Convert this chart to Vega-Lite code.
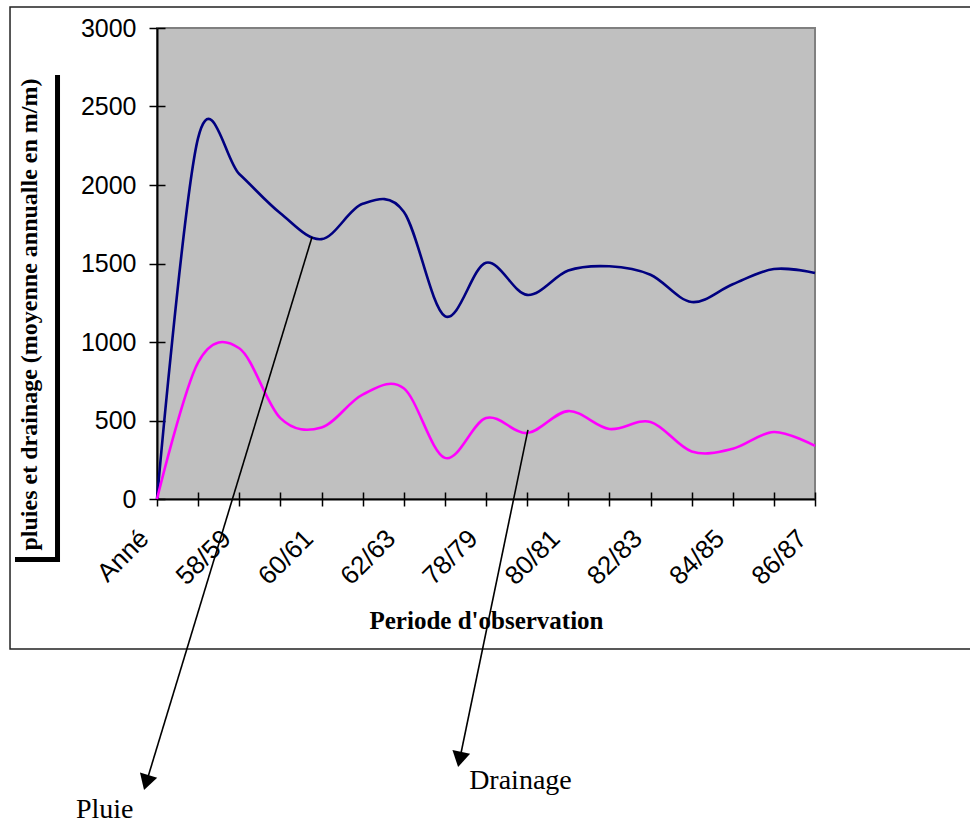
{
  "$schema": "https://vega.github.io/schema/vega-lite/v6.json",
  "autosize": {"type": "none"},
  "width": 658,
  "height": 471,
  "padding": {"left": 157, "top": 28, "right": 155, "bottom": 326},
  "background": "white",
  "config": {
    "view": {"fill": "#C0C0C0", "stroke": "#808080", "strokeWidth": 2},
    "axis": {"grid": false}
  },
  "datasets": {
    "series": [
      {"periode": "Anné", "i": 0, "serie": "Pluie", "valeur": 0},
      {"periode": "57/58", "i": 1, "serie": "Pluie", "valeur": 2300},
      {"periode": "58/59", "i": 2, "serie": "Pluie", "valeur": 2070},
      {"periode": "59/60", "i": 3, "serie": "Pluie", "valeur": 1820},
      {"periode": "60/61", "i": 4, "serie": "Pluie", "valeur": 1655},
      {"periode": "61/62", "i": 5, "serie": "Pluie", "valeur": 1880},
      {"periode": "62/63", "i": 6, "serie": "Pluie", "valeur": 1830},
      {"periode": "77/78", "i": 7, "serie": "Pluie", "valeur": 1165},
      {"periode": "78/79", "i": 8, "serie": "Pluie", "valeur": 1505},
      {"periode": "79/80", "i": 9, "serie": "Pluie", "valeur": 1300},
      {"periode": "80/81", "i": 10, "serie": "Pluie", "valeur": 1455},
      {"periode": "81/82", "i": 11, "serie": "Pluie", "valeur": 1482},
      {"periode": "82/83", "i": 12, "serie": "Pluie", "valeur": 1428},
      {"periode": "83/84", "i": 13, "serie": "Pluie", "valeur": 1255},
      {"periode": "84/85", "i": 14, "serie": "Pluie", "valeur": 1368},
      {"periode": "85/86", "i": 15, "serie": "Pluie", "valeur": 1465},
      {"periode": "86/87", "i": 16, "serie": "Pluie", "valeur": 1440},
      {"periode": "Anné", "i": 0, "serie": "Drainage", "valeur": 0},
      {"periode": "57/58", "i": 1, "serie": "Drainage", "valeur": 870},
      {"periode": "58/59", "i": 2, "serie": "Drainage", "valeur": 960},
      {"periode": "59/60", "i": 3, "serie": "Drainage", "valeur": 515},
      {"periode": "60/61", "i": 4, "serie": "Drainage", "valeur": 455},
      {"periode": "61/62", "i": 5, "serie": "Drainage", "valeur": 665},
      {"periode": "62/63", "i": 6, "serie": "Drainage", "valeur": 705},
      {"periode": "77/78", "i": 7, "serie": "Drainage", "valeur": 262},
      {"periode": "78/79", "i": 8, "serie": "Drainage", "valeur": 516},
      {"periode": "79/80", "i": 9, "serie": "Drainage", "valeur": 420},
      {"periode": "80/81", "i": 10, "serie": "Drainage", "valeur": 560},
      {"periode": "81/82", "i": 11, "serie": "Drainage", "valeur": 446},
      {"periode": "82/83", "i": 12, "serie": "Drainage", "valeur": 491},
      {"periode": "83/84", "i": 13, "serie": "Drainage", "valeur": 303},
      {"periode": "84/85", "i": 14, "serie": "Drainage", "valeur": 320},
      {"periode": "85/86", "i": 15, "serie": "Drainage", "valeur": 427},
      {"periode": "86/87", "i": 16, "serie": "Drainage", "valeur": 338}
    ],
    "annotations": [
      {"label": "Pluie", "x_debut": 3.77, "y_debut": 1669, "x_fin": -0.26, "y_fin": -1806, "x_texte": -1.97, "y_texte": -2032},
      {"label": "Drainage", "x_debut": 9.02, "y_debut": 440, "x_fin": 7.36, "y_fin": -1659, "x_texte": 7.59, "y_texte": -1847}
    ],
    "cadre": [
      {"x": -3.574, "x2": 20, "y": 3134, "y2": -955}
    ],
    "ombre": [
      {"x": -2.419, "x2": -2.419, "y": 2701, "y2": -401},
      {"x": -3.453, "x2": -2.359, "y": -385, "y2": -385}
    ]
  },
  "resolve": {"axis": {"x": "independent", "y": "independent"}},
  "layer": [
    {
      "data": {"name": "cadre"},
      "mark": {"type": "rect", "fillOpacity": 0, "stroke": "#222222", "strokeWidth": 1.5, "clip": false},
      "encoding": {
        "x": {"field": "x", "type": "quantitative", "scale": {"domain": [0, 16], "nice": false, "zero": false}, "axis": null},
        "x2": {"field": "x2"},
        "y": {"field": "y", "type": "quantitative", "scale": {"domain": [0, 3000], "nice": false}, "axis": null},
        "y2": {"field": "y2"}
      }
    },
    {
      "data": {"name": "ombre"},
      "mark": {"type": "rule", "color": "#000000", "strokeWidth": 5, "clip": false},
      "encoding": {
        "x": {"field": "x", "type": "quantitative", "scale": {"domain": [0, 16], "nice": false, "zero": false}, "axis": null},
        "x2": {"field": "x2"},
        "y": {"field": "y", "type": "quantitative", "scale": {"domain": [0, 3000], "nice": false}, "axis": null},
        "y2": {"field": "y2"}
      }
    },
    {
      "data": {"name": "series"},
      "mark": {"type": "line", "interpolate": "cardinal", "strokeWidth": 2.6, "clip": false},
      "encoding": {
        "x": {
          "field": "i", "type": "quantitative",
          "scale": {"domain": [0, 16], "nice": false, "zero": false},
          "axis": {
            "orient": "bottom",
            "values": [0, 1, 2, 3, 4, 5, 6, 7, 8, 9, 10, 11, 12, 13, 14, 15, 16],
            "labelExpr": "datum.value % 2 == 0 ? ['Anné','58/59','60/61','62/63','78/79','80/81','82/83','84/85','86/87'][datum.value / 2] : ''",
            "labelAngle": -45, "labelAlign": "right", "labelBaseline": "top",
            "labelPadding": 19, "labelOffset": -22,
            "labelFont": "Liberation Sans", "labelFontSize": 26, "labelColor": "#000000",
            "labelOverlap": false, "labelFlush": false,
            "tickSize": 7, "tickColor": "#000000", "tickWidth": 1.5,
            "domainColor": "#000000", "domainWidth": 2,
            "title": "Periode d'observation",
            "titleFont": "Liberation Serif", "titleFontSize": 25, "titleFontWeight": "bold", "titleColor": "#000000",
            "titleX": 329, "titleY": 129, "titleAlign": "center", "titleBaseline": "alphabetic",
            "grid": false
          }
        },
        "y": {
          "field": "valeur", "type": "quantitative",
          "scale": {"domain": [0, 3000], "nice": false},
          "axis": {
            "orient": "left",
            "values": [0, 500, 1000, 1500, 2000, 2500, 3000],
            "format": "d",
            "labelFont": "Liberation Sans", "labelFontSize": 25, "labelColor": "#000000",
            "labelPadding": 13, "labelOverlap": false, "labelFlush": false, "labelBaseline": "middle",
            "tickSize": 8, "tickColor": "#000000", "tickWidth": 1.5,
            "domainColor": "#000000", "domainWidth": 2,
            "title": "pluies et drainage (moyenne annualle en m/m)",
            "titleFont": "Liberation Serif", "titleFontSize": 24, "titleFontWeight": "bold", "titleColor": "#000000",
            "titleAngle": -90, "titleX": -120.5, "titleY": 286, "titleAlign": "center", "titleBaseline": "alphabetic",
            "grid": false
          }
        },
        "color": {
          "field": "serie", "type": "nominal",
          "scale": {"domain": ["Pluie", "Drainage"], "range": ["#000080", "#FF00FF"]},
          "legend": null
        }
      }
    },
    {
      "data": {"name": "series"},
      "mark": {"type": "point", "opacity": 0},
      "encoding": {
        "x": {
          "field": "i", "type": "quantitative",
          "scale": {"domain": [0, 16], "nice": false, "zero": false},
          "axis": {
            "orient": "bottom",
            "values": [0, 1, 2, 3, 4, 5, 6, 7, 8, 9, 10, 11, 12, 13, 14, 15, 16],
            "labels": false, "domain": false, "title": null,
            "tickSize": -7, "tickColor": "#000000", "tickWidth": 1.5, "grid": false
          }
        },
        "y": {
          "field": "valeur", "type": "quantitative",
          "scale": {"domain": [0, 3000], "nice": false},
          "axis": {
            "orient": "left",
            "values": [0, 500, 1000, 1500, 2000, 2500, 3000],
            "labels": false, "domain": false, "title": null,
            "tickSize": -8, "tickColor": "#000000", "tickWidth": 1.5, "grid": false
          }
        }
      }
    },
    {
      "data": {"name": "annotations"},
      "mark": {"type": "rule", "color": "#000000", "strokeWidth": 1.6, "clip": false},
      "encoding": {
        "x": {"field": "x_debut", "type": "quantitative", "scale": {"domain": [0, 16], "nice": false, "zero": false}, "axis": null},
        "x2": {"field": "x_fin"},
        "y": {"field": "y_debut", "type": "quantitative", "scale": {"domain": [0, 3000], "nice": false}, "axis": null},
        "y2": {"field": "y_fin"}
      }
    },
    {
      "data": {"name": "annotations"},
      "transform": [{"filter": "datum.label === 'Pluie'"}],
      "mark": {"type": "point", "shape": "triangle-down", "size": 324, "filled": true, "color": "#000000", "opacity": 1, "angle": 17, "clip": false},
      "encoding": {
        "x": {"field": "x_fin", "type": "quantitative", "scale": {"domain": [0, 16], "nice": false, "zero": false}, "axis": null},
        "y": {"field": "y_fin", "type": "quantitative", "scale": {"domain": [0, 3000], "nice": false}, "axis": null}
      }
    },
    {
      "data": {"name": "annotations"},
      "transform": [{"filter": "datum.label === 'Drainage'"}],
      "mark": {"type": "point", "shape": "triangle-down", "size": 324, "filled": true, "color": "#000000", "opacity": 1, "angle": 11.7, "clip": false},
      "encoding": {
        "x": {"field": "x_fin", "type": "quantitative", "scale": {"domain": [0, 16], "nice": false, "zero": false}, "axis": null},
        "y": {"field": "y_fin", "type": "quantitative", "scale": {"domain": [0, 3000], "nice": false}, "axis": null}
      }
    },
    {
      "data": {"name": "annotations"},
      "mark": {"type": "text", "font": "Liberation Serif", "fontSize": 28, "align": "left", "baseline": "alphabetic", "color": "#000000", "clip": false},
      "encoding": {
        "x": {"field": "x_texte", "type": "quantitative", "scale": {"domain": [0, 16], "nice": false, "zero": false}, "axis": null},
        "y": {"field": "y_texte", "type": "quantitative", "scale": {"domain": [0, 3000], "nice": false}, "axis": null},
        "text": {"field": "label"}
      }
    }
  ]
}
